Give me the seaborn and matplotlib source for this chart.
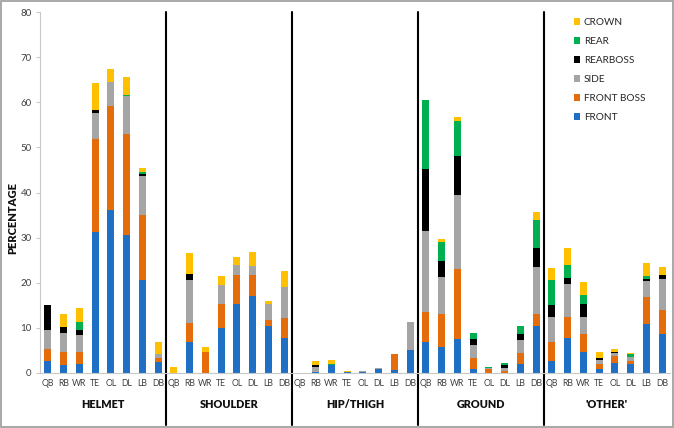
import matplotlib
matplotlib.use("Agg")
import matplotlib.pyplot as plt
import seaborn as sns
import pandas as pd
import numpy as np
from matplotlib.patches import Patch, Rectangle

groups = ["HELMET", "SHOULDER", "HIP/THIGH", "GROUND", "'OTHER'"]
positions = ["QB", "RB", "WR", "TE", "OL", "DL", "LB", "DB"]
series = ["FRONT", "FRONT BOSS", "SIDE", "REARBOSS", "REAR", "CROWN"]
colors = ["#1F6FC5", "#E46C0A", "#A5A5A5", "#000000", "#00B050", "#FFC000"]

# values per group, per position (QB..DB)
front = [2.7, 1.7, 1.9, 31.3, 36.1, 30.6, 20.7, 2.5,
         0.0, 6.8, 0.0, 10.0, 15.4, 17.1, 10.5, 7.8,
         0.0, 0.2, 1.7, 0.2, 0.3, 0.8, 0.7, 5.2,
         6.8, 5.7, 7.6, 0.8, 0.0, 0.0, 2.1, 10.4,
         2.7, 7.8, 4.7, 0.8, 2.3, 1.9, 10.8, 8.65]
front_boss = [2.7, 2.9, 2.7, 20.6, 23.0, 22.4, 14.3, 0.9,
              0.0, 4.2, 4.7, 5.4, 6.3, 4.6, 1.2, 4.4,
              0.0, 0.0, 0.0, 0.1, 0.0, 0.0, 3.4, 0.0,
              6.7, 7.3, 15.5, 2.45, 0.9, 0.4, 2.4, 2.6,
              4.2, 4.6, 3.9, 1.1, 1.5, 0.75, 6.05, 5.35]
side = [4.1, 4.3, 3.9, 5.7, 5.4, 8.3, 8.75, 0.9,
        0.0, 9.6, 0.0, 4.1, 2.2, 2.1, 3.7, 6.8,
        0.0, 1.2, 0.0, 0.0, 0.2, 0.3, 0.0, 6.1,
        17.9, 8.35, 16.3, 3.05, 0.2, 0.6, 2.8, 10.4,
        5.4, 7.3, 3.8, 1.05, 0.55, 0.95, 3.55, 6.8]
rearboss = [5.5, 1.2, 1.0, 0.6, 0.0, 0.1, 0.3, 0.0,
            0.0, 1.35, 0.0, 0.0, 0.0, 0.0, 0.0, 0.0,
            0.0, 0.3, 0.0, 0.0, 0.0, 0.0, 0.0, 0.0,
            13.8, 3.45, 8.7, 1.3, 0.0, 0.8, 1.3, 4.4,
            2.7, 1.4, 2.9, 0.35, 0.35, 0.0, 0.5, 0.9]
rear = [0.0, 0.2, 1.8, 0.0, 0.0, 0.1, 0.4, 0.0,
        0.0, 0.0, 0.0, 0.0, 0.0, 0.0, 0.0, 0.0,
        0.0, 0.0, 0.2, 0.0, 0.0, 0.0, 0.0, 0.0,
        15.2, 4.2, 7.8, 1.3, 0.2, 0.35, 1.75, 6.1,
        5.5, 2.8, 2.0, 0.0, 0.0, 0.5, 0.5, 0.0]
crown = [0.0, 2.8, 3.1, 6.0, 2.8, 4.0, 0.9, 2.6,
         1.3, 4.75, 1.0, 2.0, 1.7, 3.0, 0.5, 3.6,
         0.0, 0.9, 1.0, 0.2, 0.0, 0.0, 0.0, 0.0,
         0.0, 0.7, 0.9, 0.0, 0.0, 0.0, 0.0, 1.8,
         2.8, 3.8, 2.9, 1.4, 0.6, 0.3, 3.0, 1.8]

layers = [front, front_boss, side, rearboss, rear, crown]

keys = [f"{g}|{p}" for g in groups for p in positions]
df = pd.DataFrame({"key": keys})
for name, vals in zip(series, layers):
    df[name] = vals
cum = df[series].cumsum(axis=1)

sns.set_style("white")
plt.rcParams["font.family"] = ["Lato", "DejaVu Sans"]

W, H = 674, 428
fig = plt.figure(figsize=(W / 100, H / 100), dpi=100)
L, R, T, B = 40, 670, 12, 373
ax = fig.add_axes([L / W, 1 - B / H, (R - L) / W, (B - T) / H])

for name, col in reversed(list(zip(series, colors))):
    sns.barplot(x=df["key"], y=cum[name], order=keys, color=col,
                width=0.45, saturation=1, ax=ax, linewidth=0, errorbar=None)

ax.set_xlim(-0.5, len(keys) - 0.5)
ax.set_ylim(0, 80)
ax.set_yticks(range(0, 81, 10))
ax.tick_params(axis="y", labelsize=7, labelcolor="#404040", length=3,
               color="#C8C8C8", width=0.8, direction="out", left=True, pad=3)
ax.set_xticks(range(len(keys)))
ax.set_xticklabels(positions * len(groups))
ax.tick_params(axis="x", labelsize=6.3, labelcolor="#404040", length=0, pad=4)
ax.set_xticks(np.arange(-0.5, len(keys), 1), minor=True)
ax.tick_params(axis="x", which="minor", length=3, color="#C8C8C8", width=0.8)
ax.set_xlabel("")
ax.set_ylabel("PERCENTAGE", fontsize=8, fontweight="heavy", color="#111111")
ax.yaxis.set_label_coords((18 - L) / (R - L), (B - 218) / (B - T))
for s in ["top", "right"]:
    ax.spines[s].set_visible(False)
for s in ["left", "bottom"]:
    ax.spines[s].set_color("#C8C8C8")
    ax.spines[s].set_linewidth(0.8)

# group dividers
ylo = (B - 425) / (B - T)
for i in range(1, len(groups)):
    ax.axvline(i * 8 - 0.5, ymin=ylo, ymax=1.0, color="black", lw=1.5, clip_on=False)

# group labels
for i, g in enumerate(groups):
    ax.text(i * 8 + 3.5, (B - 405) / (B - T), g, transform=ax.get_xaxis_transform(),
            ha="center", va="center", fontsize=7.8, fontweight="heavy", color="#111111")

handles = [Patch(facecolor=c, edgecolor="none", label=n)
           for n, c in reversed(list(zip(series, colors)))]
leg = ax.legend(handles=handles, loc="upper left", bbox_to_anchor=((570 - L) / (R - L), (B - 14) / (B - T)),
                frameon=False, fontsize=7.2, handlelength=0.6, handleheight=0.6,
                handletextpad=0.4, labelspacing=1.0, borderaxespad=0)
for t in leg.get_texts():
    t.set_color("#262626")

fig.patches.append(Rectangle((0.002, 0.003), 0.996, 0.994, transform=fig.transFigure,
                             fill=False, edgecolor="#9a9a9a", lw=1.2))

fig.savefig("out.png", dpi=100)
